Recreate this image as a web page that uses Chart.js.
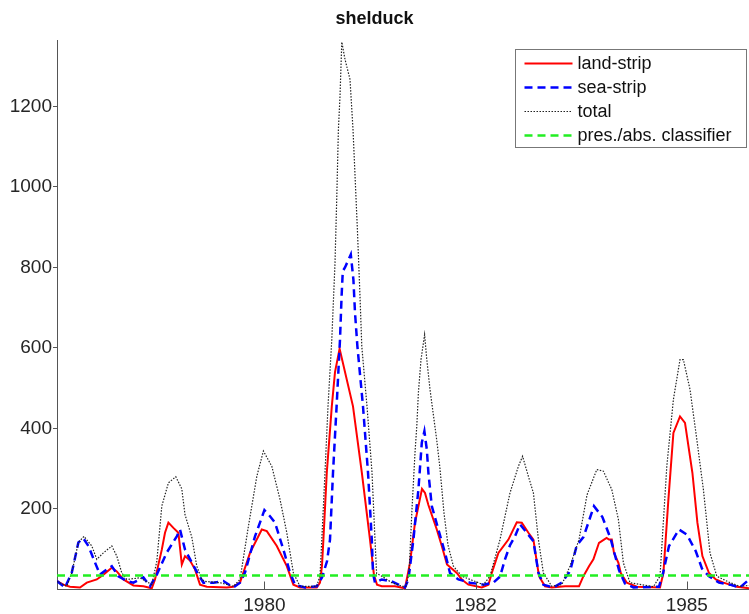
<!DOCTYPE html>
<html>
<head>
<meta charset="utf-8">
<script src="https://cdn.jsdelivr.net/npm/chart.js@4"></script>
<style>
  body { margin: 0; background: #fff; }
  canvas { display: block; }
</style>
</head>
<body>
<canvas id="chart" width="749" height="614"></canvas>
<script>
// sample index along the time axis (shared scale for all series)
const landT = [0, 3.2, 6.5, 11.5, 14.9, 19.9, 23.2, 27.4, 29.9, 33.2, 38.2, 43.2, 47.4, 49, 52.4, 54, 55.7, 58.2, 60.7, 62.4, 64, 66.5, 69, 71.5, 74.9, 84.9, 88.2, 91.5, 96.5, 102.4, 104.9, 109.9, 114.9, 118.2, 121.5, 129.9, 131.5, 132.5, 133.2, 134.9, 137.4, 139, 141.3, 148, 152.4, 156.5, 158.5, 160, 162.4, 169, 174, 176.5, 179, 182.5, 184, 185.7, 189.9, 192.4, 195, 199.9, 202.4, 205.7, 212.4, 215.7, 217.4, 220.7, 225.7, 229.9, 232.4, 235.7, 238.2, 241, 244, 247.4, 254, 261, 263.2, 266, 268.2, 271, 273.5, 274.8, 276, 277.4, 278.5, 280.7, 281.9, 284.9, 289.9, 301.5, 303.2, 305.7, 308.2, 311.5, 314, 317.7, 320.2, 322.7, 326, 329.4, 333.2, 339.9, 346];
const landVals = [21, 12, 7, 5, 17, 25, 37, 54, 45, 25, 10, 8, 3, 25, 99, 141, 166, 153, 141, 62, 83, 72, 50, 12, 7, 5, 7, 17, 91, 149, 145, 108, 58, 12, 5, 5, 17, 60, 124, 291, 455, 540, 598, 455, 291, 124, 35, 12, 8, 8, 3, 66, 166, 250, 240, 210, 149, 108, 62, 41, 25, 12, 5, 12, 41, 91, 124, 167, 166, 141, 124, 33, 8, 5, 8, 8, 33, 58, 75, 116, 124, 128, 124, 124, 91, 66, 41, 17, 7, 5, 41, 224, 389, 430, 414, 290, 166, 83, 41, 25, 17, 7, 3];

const seaT = [0, 4, 7.4, 10.7, 13.2, 15.7, 19, 21.5, 24.9, 27.4, 30.7, 34.9, 38.2, 43.2, 46.5, 49.9, 54.9, 59.9, 61.5, 64, 67.4, 70.7, 73.2, 78.2, 83.2, 88.2, 91.5, 94, 99, 103.7, 106.5, 109, 113.2, 116.5, 119, 124, 129.9, 132.5, 135, 136.5, 138, 139.8, 141.5, 142.3, 142.9, 144, 146.9, 148.2, 149, 150.2, 153, 155.5, 157.4, 158, 159, 162.4, 167.4, 172.4, 174, 175.7, 178.2, 180.7, 182.4, 183.7, 184.9, 185.7, 187.4, 190.7, 194, 196.5, 200.7, 206.5, 213.2, 218.2, 221.5, 224, 226.5, 229, 231.5, 234.9, 238.2, 240.7, 243.2, 248.2, 252.4, 256.5, 259.9, 263.2, 268.5, 272.7, 276.7, 281, 284, 288.2, 301, 303, 306, 311, 315, 319.4, 322.5, 326, 331, 336.5, 341.5, 345.2];
const seaVals = [21, 5, 42, 117, 127, 108, 67, 37, 50, 58, 33, 21, 17, 30, 8, 37, 92, 132, 149, 99, 67, 37, 17, 17, 21, 5, 17, 42, 132, 197, 182, 166, 99, 42, 12, 5, 8, 30, 70, 124, 290, 455, 621, 729, 791, 800, 832, 770, 688, 604, 455, 291, 124, 40, 17, 25, 20, 8, 5, 25, 124, 248, 365, 393, 348, 290, 207, 149, 91, 41, 25, 17, 12, 17, 32, 75, 110, 132, 162, 141, 120, 42, 12, 5, 17, 45, 110, 130, 207, 180, 128, 48, 15, 5, 7, 40, 108, 149, 136, 95, 52, 33, 17, 12, 5, 21];

const totalT = [0, 4.9, 7.4, 10.7, 13.5, 17.4, 19.9, 23.2, 27.4, 29.9, 32.4, 34.9, 41.5, 47.4, 49.9, 52.4, 55.7, 59.4, 62.4, 64, 67.4, 69.9, 72.4, 74, 81.5, 88.2, 91.5, 95.7, 99.9, 103.2, 107.4, 111.5, 114.9, 118.2, 121.5, 129.9, 131.5, 132.4, 134, 135.5, 137.4, 139, 139.9, 140.7, 141.5, 142.4, 144, 146.5, 148, 150.2, 151.5, 152.4, 155, 157.5, 159, 159.8, 162.4, 167.4, 172.4, 174.5, 176, 177.5, 179, 179.9, 180.7, 182, 183.8, 184.9, 186.5, 189.9, 191.5, 193.5, 195.5, 198.2, 202.4, 206.5, 213.2, 216.5, 221.5, 226.5, 230.7, 232.8, 235.7, 238.2, 240.7, 243.2, 247.4, 252.4, 256.5, 261, 265, 269.9, 273.2, 277.4, 280.7, 283.2, 286.5, 298.2, 301.5, 304.9, 308.2, 311.5, 313.2, 316.5, 319.9, 323.2, 326.5, 329.9, 336.5, 341.5, 346];
const totalVals = [20, 8, 42, 117, 132, 108, 75, 91, 108, 83, 41, 25, 29, 12, 70, 207, 265, 280, 250, 186, 130, 58, 25, 20, 17, 8, 25, 157, 281, 344, 306, 224, 141, 41, 8, 8, 35, 124, 291, 455, 621, 811, 977, 1143, 1225, 1360, 1317, 1267, 1143, 894, 729, 604, 455, 291, 124, 40, 33, 17, 8, 8, 40, 200, 340, 406, 489, 571, 633, 571, 497, 370, 300, 190, 110, 58, 33, 25, 12, 33, 124, 240, 306, 331, 281, 240, 124, 41, 8, 12, 58, 124, 235, 298, 294, 248, 174, 66, 17, 7, 33, 306, 472, 571, 571, 497, 373, 248, 91, 33, 17, 8, 10];

const classifierT = [0, 346];
const classifierVals = [35, 35];

const yTicks = [200, 400, 600, 800, 1000, 1200];
const yearTicks = [103.7, 209.3, 314.9];
const yearLabels = ['1980', '1982', '1985'];

const seriesNames = ['land-strip', 'sea-strip', 'total', 'pres./abs. classifier'];

function toPoints(xs, ys) {
    return xs.map((x, i) => ({ x: x, y: ys[i] }));
}

const axisColor = '#555555';
const textColor = '#262626';

Chart.defaults.font.family = '"Liberation Sans", Arial, sans-serif';
Chart.defaults.color = textColor;

// inward tick marks on the time axis, like the original figure
const xTickMarks = {
    id: 'xTickMarks',
    afterDraw(chart) {
        const ctx = chart.ctx;
        const xs = chart.scales.x;
        const bottom = chart.chartArea.bottom;
        ctx.save();
        ctx.strokeStyle = axisColor;
        ctx.lineWidth = 1;
        yearTicks.forEach(v => {
            const px = Math.round(xs.getPixelForValue(v)) + 0.5;
            ctx.beginPath();
            ctx.moveTo(px, bottom);
            ctx.lineTo(px, bottom - 8);
            ctx.stroke();
        });
        ctx.restore();
    }
};

// boxed legend in the upper right corner of the axes
const boxLegend = {
    id: 'boxLegend',
    afterDraw(chart) {
        const ctx = chart.ctx;
        const area = chart.chartArea;
        const boxW = 231, boxH = 98;
        const left = area.right - boxW - 2.5;
        const top = area.top + 9.5;
        ctx.save();
        ctx.fillStyle = '#ffffff';
        ctx.fillRect(left, top, boxW, boxH);
        ctx.strokeStyle = '#777777';
        ctx.lineWidth = 1;
        ctx.strokeRect(left, top, boxW, boxH);
        ctx.font = '18px "Liberation Sans", Arial, sans-serif';
        ctx.textBaseline = 'middle';
        ctx.fillStyle = '#111111';
        chart.data.datasets.forEach((ds, i) => {
            const y = top + 14 + i * 24;
            ctx.beginPath();
            ctx.strokeStyle = ds.borderColor;
            ctx.lineWidth = ds.borderWidth;
            ctx.setLineDash(ds.borderDash || []);
            ctx.moveTo(left + 9, y);
            ctx.lineTo(left + 57, y);
            ctx.stroke();
            ctx.setLineDash([]);
            ctx.fillText(ds.label, left + 62, y + 1);
        });
        ctx.restore();
    }
};

new Chart(document.getElementById('chart').getContext('2d'), {
    type: 'line',
    data: {
        datasets: [
            {
                label: seriesNames[0],
                data: toPoints(landT, landVals),
                borderColor: '#ff0000',
                borderWidth: 2,
                order: 4
            },
            {
                label: seriesNames[1],
                data: toPoints(seaT, seaVals),
                borderColor: '#0000ff',
                borderWidth: 2.5,
                borderDash: [8, 5],
                order: 3
            },
            {
                label: seriesNames[2],
                data: toPoints(totalT, totalVals),
                borderColor: '#222222',
                borderWidth: 1.2,
                borderDash: [1.5, 1.5],
                order: 2
            },
            {
                label: seriesNames[3],
                data: toPoints(classifierT, classifierVals),
                borderColor: '#22ee22',
                borderWidth: 2.5,
                borderDash: [8, 5],
                order: 1
            }
        ]
    },
    options: {
        responsive: false,
        animation: false,
        devicePixelRatio: 1,
        layout: { padding: 0 },
        elements: {
            point: { radius: 0 },
            line: { tension: 0, fill: false }
        },
        plugins: {
            legend: { display: false },
            tooltip: { enabled: false },
            title: {
                display: true,
                text: 'shelduck',
                color: '#111111',
                font: { size: 18, weight: 'bold' },
                padding: { top: 8, bottom: 10.4 }
            }
        },
        scales: {
            x: {
                type: 'linear',
                min: 0,
                max: 346,
                afterBuildTicks: scale => {
                    scale.ticks = yearTicks.map(v => ({ value: v }));
                },
                afterFit: scale => { scale.height = 24.5; },
                grid: { display: false, drawTicks: false },
                border: { display: true, color: axisColor, width: 1 },
                ticks: {
                    autoSkip: false,
                    maxRotation: 0,
                    padding: 5,
                    color: textColor,
                    font: { size: 19 },
                    callback: (v, i) => yearLabels[i]
                }
            },
            y: {
                type: 'linear',
                min: 0,
                max: 1365,
                afterBuildTicks: scale => {
                    scale.ticks = yTicks.map(v => ({ value: v }));
                },
                afterFit: scale => { scale.width = 57; },
                grid: {
                    drawOnChartArea: false,
                    drawTicks: true,
                    tickLength: 4,
                    color: axisColor
                },
                border: { display: true, color: axisColor, width: 1 },
                ticks: {
                    padding: 1,
                    color: textColor,
                    font: { size: 19 },
                    callback: v => String(v)
                }
            }
        }
    },
    plugins: [xTickMarks, boxLegend]
});
</script>
</body>
</html>
